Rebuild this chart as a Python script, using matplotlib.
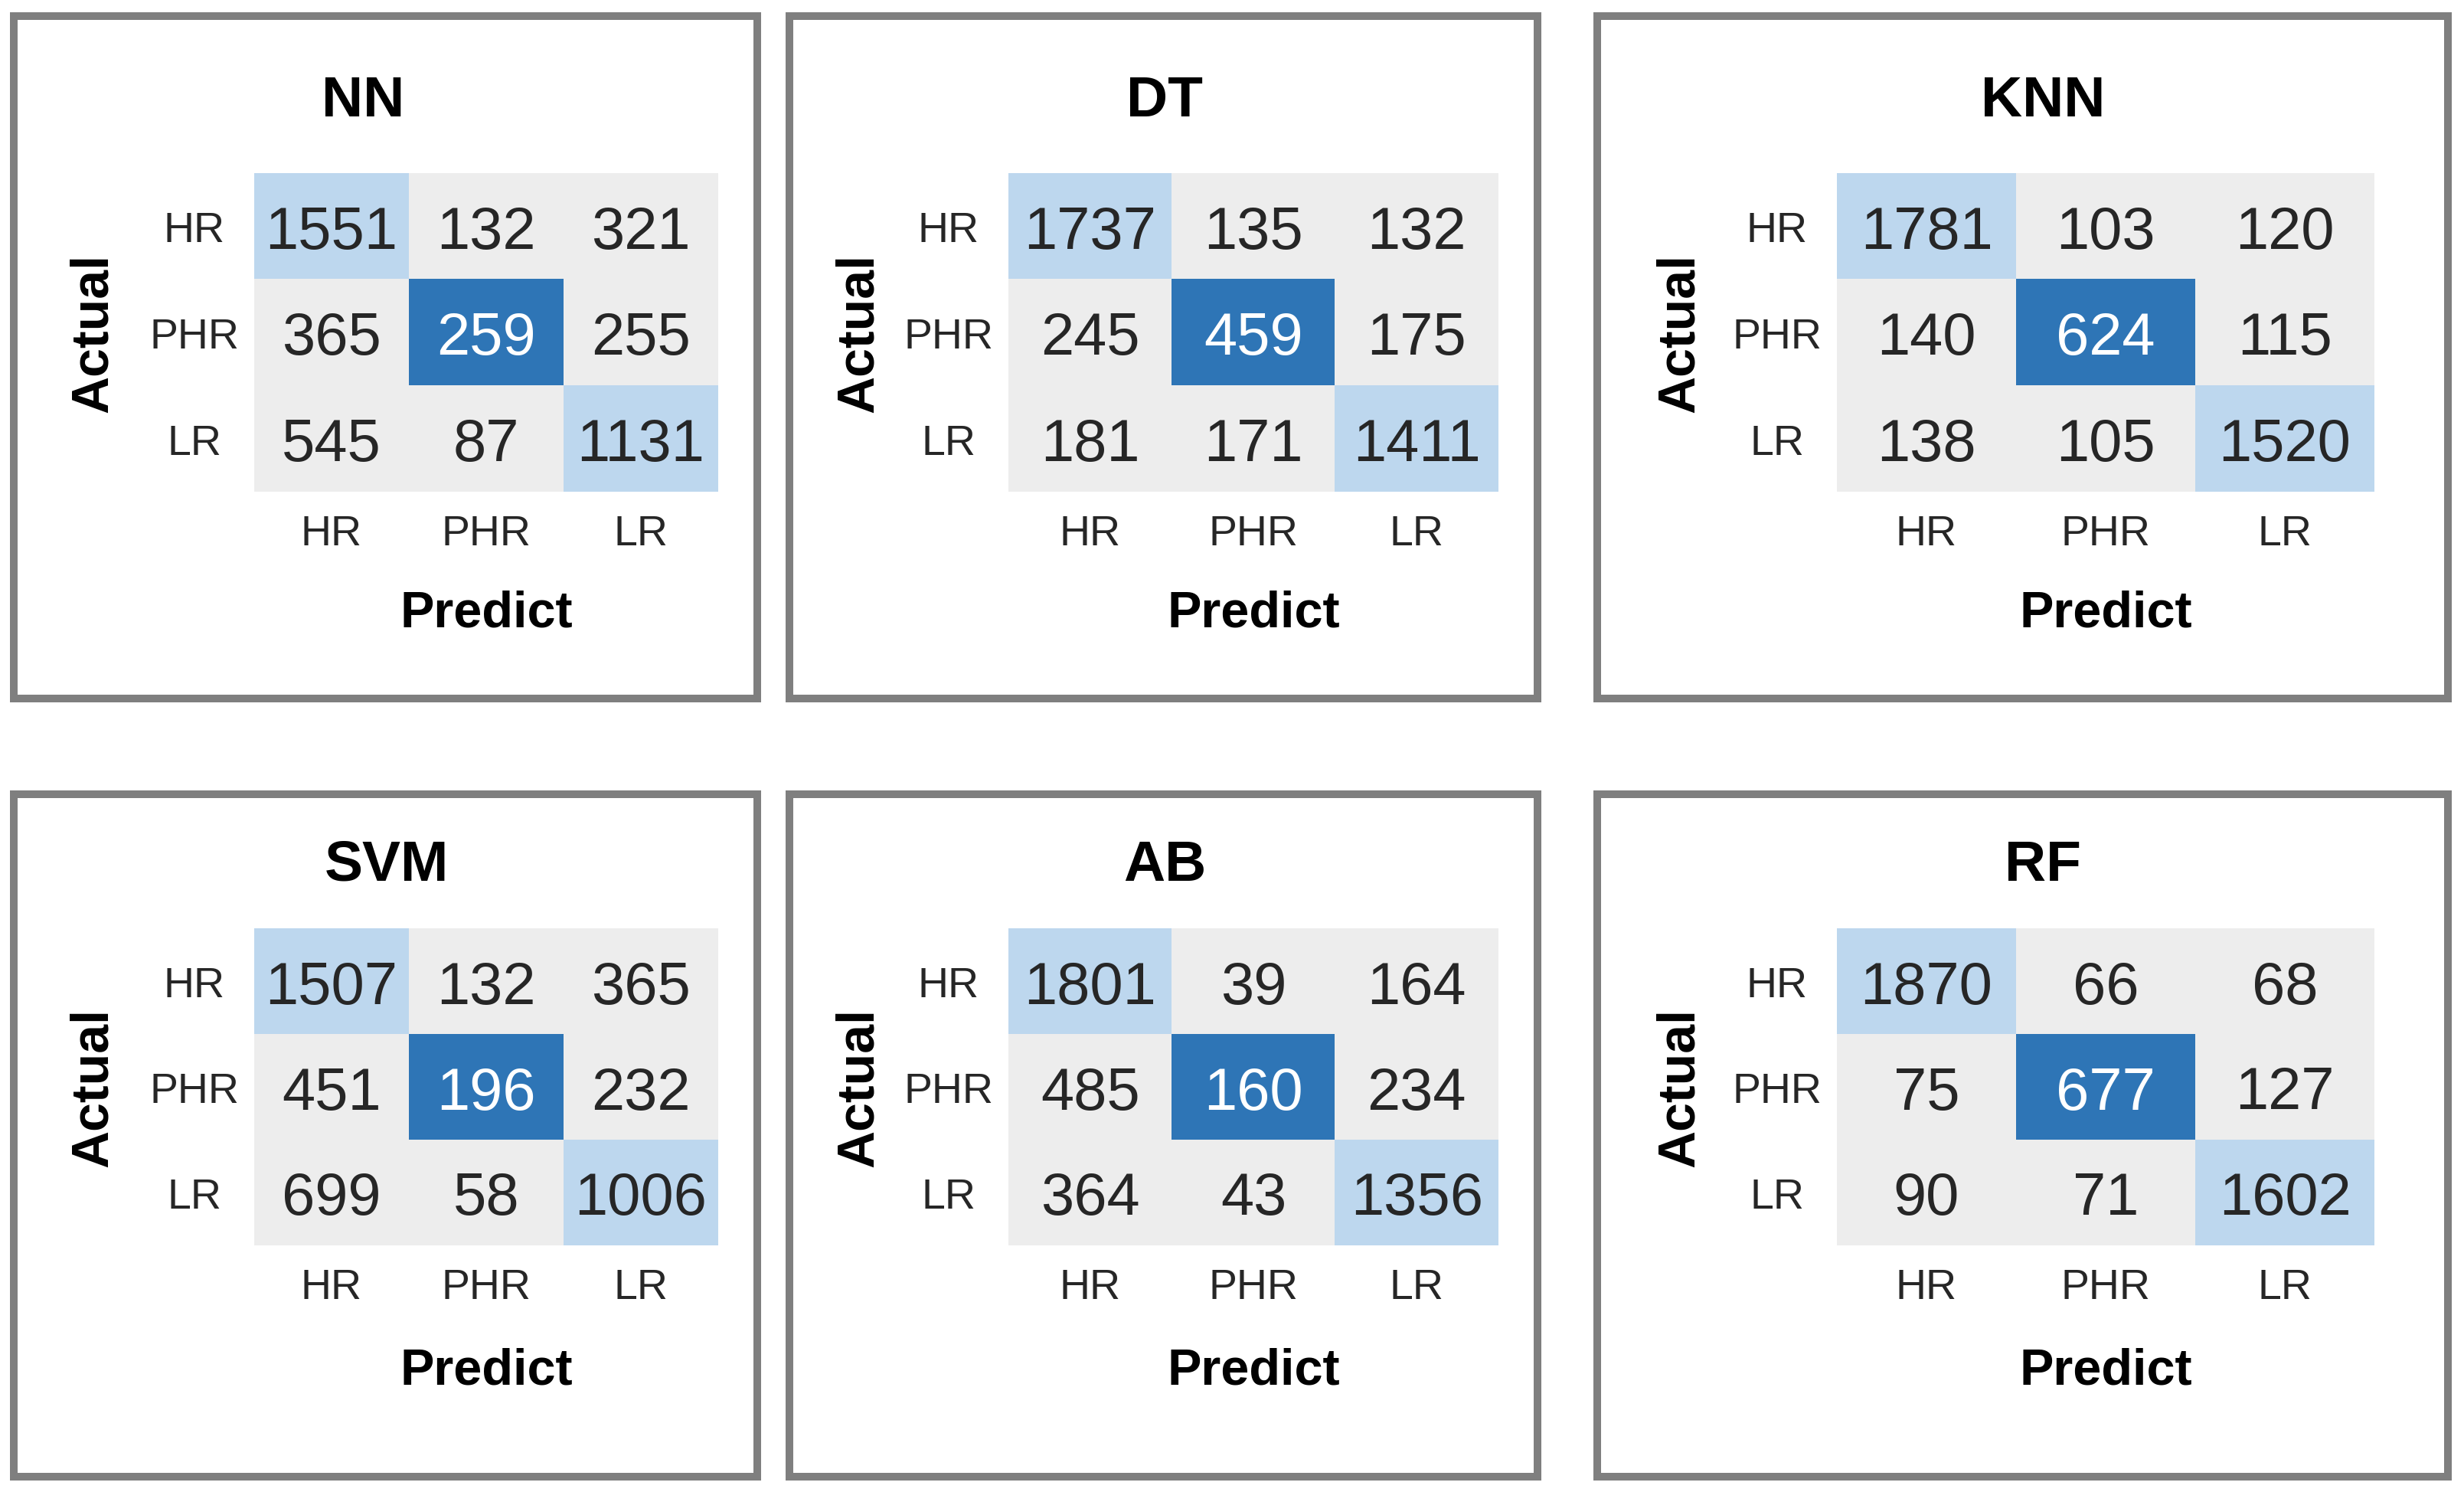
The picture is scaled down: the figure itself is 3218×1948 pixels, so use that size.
import matplotlib
matplotlib.use('Agg')
import matplotlib.pyplot as plt
from matplotlib.colors import ListedColormap
from matplotlib.patches import Rectangle
import numpy as np

plt.rcParams['font.family'] = ['Liberation Sans', 'DejaVu Sans']

# ---------------- data ----------------
models = ['NN', 'DT', 'KNN', 'SVM', 'AB', 'RF']
classes = ['HR', 'PHR', 'LR']
x_label = 'Predict'
y_label = 'Actual'

nn_cm = [[1551, 132, 321], [365, 259, 255], [545, 87, 1131]]
dt_cm = [[1737, 135, 132], [245, 459, 175], [181, 171, 1411]]
knn_cm = [[1781, 103, 120], [140, 624, 115], [138, 105, 1520]]
svm_cm = [[1507, 132, 365], [451, 196, 232], [699, 58, 1006]]
ab_cm = [[1801, 39, 164], [485, 160, 234], [364, 43, 1356]]
rf_cm = [[1870, 66, 68], [75, 677, 127], [90, 71, 1602]]
matrices = [nn_cm, dt_cm, knn_cm, svm_cm, ab_cm, rf_cm]

# ---------------- layout (pixels) ----------------
W, H = 3218, 1949
fig = plt.figure(figsize=(W / 100, H / 100), dpi=100)

heat_left = [332, 1317, 2399]
heat_width = [606, 640, 702]
heat_top = [227, 1213]
heat_height = [416, 414]
panel_x = [(17.5, 989.5), (1031, 2008), (2086, 3197)]
panel_y = [(21.5, 912.5), (1038, 1929)]
title_x = [[474, 1521, 2668], [505, 1521, 2668]]
title_y = [133, 1130]
actual_x = [122, 1122, 2194]

cmap = ListedColormap(['#EDEDED', '#BDD7EE', '#2E75B6'])
txt_col = '#262626'

for k, (name, cm) in enumerate(zip(models, matrices)):
    r, c = divmod(k, 3)
    vals = np.array(cm)
    n = len(classes)
    style = np.zeros((n, n), dtype=int)
    for i in range(n):
        style[i, i] = 2 if classes[i] == 'PHR' else 1

    x0, w = heat_left[c], heat_width[c]
    y0, h = heat_top[r], heat_height[r]
    ax = fig.add_axes([x0 / W, 1 - (y0 + h) / H, w / W, h / H])
    ax.imshow(style, cmap=cmap, vmin=0, vmax=2, aspect='auto', interpolation='nearest')
    for i in range(n):
        for j in range(n):
            ax.text(j, i, str(vals[i, j]), ha='center', va='center_baseline',
                    fontsize=56, color='white' if style[i, j] == 2 else txt_col)
    ax.set_xticks(range(n), classes)
    ax.set_yticks(range(n), classes)
    ax.tick_params(axis='x', length=0, pad=49 * 0.72, labelsize=40, labelcolor=txt_col)
    ax.tick_params(axis='y', length=0, pad=78 * 0.72, labelsize=40, labelcolor=txt_col)
    for lab in ax.get_xticklabels():
        lab.set_va('center_baseline')
    for lab in ax.get_yticklabels():
        lab.set_ha('center')
        lab.set_va('center_baseline')
    for s in ax.spines.values():
        s.set_visible(False)

    # axis labels
    pred_y = heat_top[r] + heat_height[r] + (159 if r == 0 else 164)
    fig.text((x0 + w / 2) / W, 1 - pred_y / H, x_label, ha='center', va='center',
             fontsize=48, fontweight='bold', color='black')
    fig.text(actual_x[c] / W, 1 - (y0 + h / 2) / H, y_label, ha='center', va='center',
             rotation=90, fontsize=49, fontweight='bold', color='black')
    # title
    fig.text(title_x[r][c] / W, 1 - title_y[r] / H, name, ha='center', va='center',
             fontsize=54, fontweight='bold', color='black')

    # panel frame
    px0, px1 = panel_x[c]
    py0, py1 = panel_y[r]
    fig.add_artist(Rectangle((px0 / W, 1 - py1 / H), (px1 - px0) / W, (py1 - py0) / H,
                             transform=fig.transFigure, fill=False, lw=7.2,
                             edgecolor='#7F7F7F'))

fig.savefig('out.png', dpi=100, facecolor='white')
